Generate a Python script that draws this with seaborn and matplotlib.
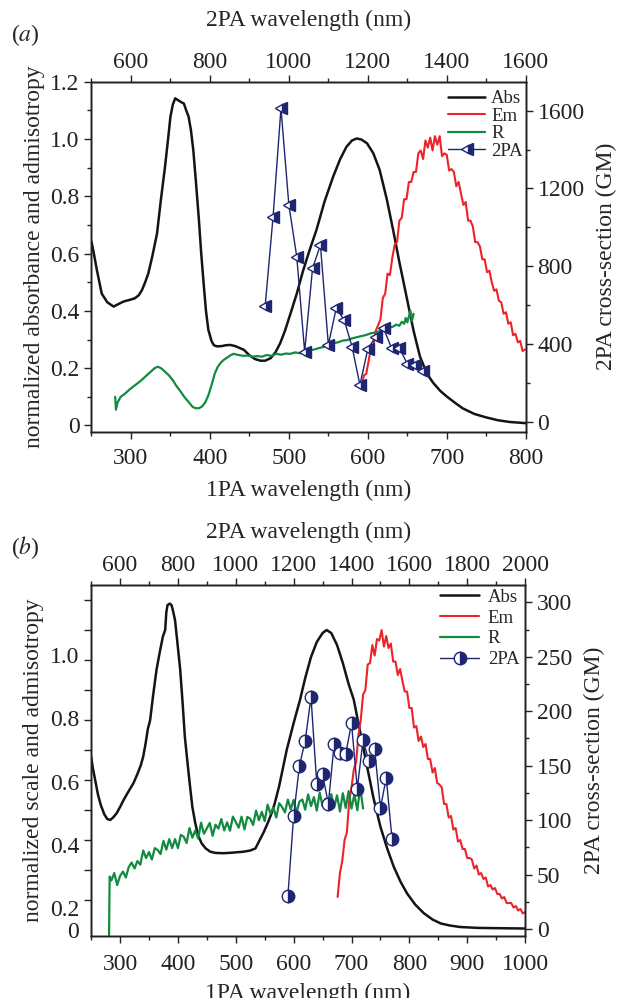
import numpy as np
import pandas as pd
import matplotlib
matplotlib.use('Agg')
import matplotlib.pyplot as plt
import seaborn as sns
from matplotlib.ticker import MultipleLocator, FixedLocator, FixedFormatter
from matplotlib.lines import Line2D

# ---------------- panel (a) data ----------------
abs_a_x = [250, 253, 257, 263, 270, 278, 285, 291, 298, 305, 310, 314, 318, 322, 327, 333, 338, 343,
           347, 350, 353, 356, 360, 364, 367, 370, 373, 376, 379, 382, 386, 389, 392, 395, 398, 402,
           405, 409, 415, 420, 426, 432, 438, 443, 450, 457, 464, 470, 477, 483, 489, 495, 502, 510,
           518, 526, 535, 545, 556, 565, 573, 580, 586, 592, 599, 607, 615, 624, 632, 640, 649, 658,
           666, 675, 683, 692, 700, 710, 720, 735, 750, 765, 780, 800]
abs_a_y = [0.642, 0.60, 0.54, 0.46, 0.43, 0.415, 0.425, 0.433, 0.438, 0.444, 0.455, 0.473, 0.50, 0.531,
           0.59, 0.67, 0.79, 0.90, 1.00, 1.078, 1.12, 1.142, 1.135, 1.128, 1.124, 1.10, 1.078, 1.03,
           0.96, 0.86, 0.72, 0.60, 0.497, 0.40, 0.334, 0.295, 0.28, 0.276, 0.277, 0.28, 0.281, 0.277,
           0.27, 0.264, 0.245, 0.232, 0.226, 0.226, 0.235, 0.255, 0.287, 0.33, 0.39, 0.46, 0.54, 0.61,
           0.683, 0.78, 0.868, 0.93, 0.973, 0.995, 1.002, 0.998, 0.985, 0.95, 0.892, 0.79, 0.683, 0.57,
           0.45, 0.33, 0.241, 0.18, 0.148, 0.12, 0.101, 0.08, 0.06, 0.04, 0.028, 0.018, 0.012, 0.008]

em_a_x = list(range(592, 801, 3))
em_a_y = [0.13, 0.175, 0.18, 0.225, 0.27, 0.275, 0.33, 0.35, 0.37, 0.445,
          0.46, 0.53, 0.525, 0.585, 0.63, 0.64, 0.715, 0.725, 0.79, 0.79,
          0.85, 0.85, 0.885, 0.885, 0.95, 0.96, 0.93, 0.995, 0.97, 1.005,
          0.96, 1.01, 0.98, 1.01, 0.94, 0.95, 0.945, 0.89, 0.895, 0.885,
          0.835, 0.85, 0.81, 0.77, 0.78, 0.715, 0.715, 0.695, 0.64, 0.64,
          0.625, 0.58, 0.58, 0.535, 0.54, 0.50, 0.47, 0.475, 0.435, 0.43,
          0.39, 0.395, 0.355, 0.36, 0.315, 0.32, 0.29, 0.295, 0.26, 0.265]

r_a_x = [280, 281, 283, 287, 292, 298, 305, 312, 318, 324, 330, 334, 338, 343, 348, 353, 358, 363, 368,
         373, 378, 382, 386, 390, 394, 398, 402, 406, 410, 414, 418, 422, 426, 430, 436, 442, 448, 454,
         460, 466, 472, 478, 484, 490, 496, 502, 508, 514, 520, 526, 532, 538, 544, 550, 556, 562, 568,
         574, 580, 586, 592, 598, 604, 610, 616, 620, 624, 628, 632, 636, 640, 643, 646, 648, 650, 652,
         654, 656, 658]
r_a_y = [0.10, 0.055, 0.08, 0.10, 0.11, 0.125, 0.14, 0.155, 0.17, 0.185, 0.20, 0.205, 0.20, 0.188,
         0.175, 0.158, 0.136, 0.118, 0.098, 0.082, 0.065, 0.06, 0.06, 0.066, 0.08, 0.105, 0.14, 0.18,
         0.205, 0.22, 0.23, 0.237, 0.245, 0.25, 0.246, 0.243, 0.244, 0.24, 0.242, 0.24, 0.246, 0.243,
         0.25, 0.247, 0.251, 0.25, 0.255, 0.252, 0.258, 0.262, 0.265, 0.27, 0.274, 0.282, 0.287, 0.29,
         0.296, 0.298, 0.304, 0.308, 0.312, 0.316, 0.322, 0.325, 0.33, 0.336, 0.333, 0.342, 0.345,
         0.352, 0.348, 0.362, 0.355, 0.375, 0.36, 0.38, 0.40, 0.365, 0.39]

tpa_a_x = [940, 960, 980, 1000, 1020, 1040, 1060, 1080, 1100, 1120, 1140, 1160, 1180, 1200, 1220,
           1240, 1260, 1280, 1300, 1320, 1340]
tpa_a_y = [596, 1055, 1612, 1115, 849, 361, 790, 909, 396, 584, 524, 387, 190, 374, 438, 481, 379,
           379, 298, 293, 259]

# ---------------- panel (b) data ----------------
abs_b_x = [250, 253, 257, 262, 267, 273, 278, 283, 288, 294, 300, 306, 314, 323, 330, 336, 340, 344,
           348, 352, 357, 363, 368, 374, 378, 380, 382, 386, 389, 392, 395, 399, 404, 408, 412, 417,
           421, 425, 430, 435, 441, 448, 456, 465, 479, 495, 513, 525, 534, 540, 548, 556, 562, 567,
           575, 588, 600, 611, 620, 630, 640, 650, 657, 665, 675, 685, 695, 704, 715, 727, 738, 750,
           762, 773, 785, 796, 810, 825, 840, 854, 870, 888, 920, 960, 1000]
abs_b_y = [0.578, 0.54, 0.50, 0.45, 0.415, 0.385, 0.37, 0.367, 0.375, 0.389, 0.41, 0.433, 0.46, 0.489,
           0.52, 0.55, 0.578, 0.62, 0.67, 0.70, 0.78, 0.867, 0.92, 0.978, 1.0, 1.06, 1.083, 1.088,
           1.083, 1.06, 1.033, 0.96, 0.867, 0.76, 0.644, 0.55, 0.478, 0.41, 0.356, 0.315, 0.289, 0.272,
           0.261, 0.257, 0.256, 0.258, 0.261, 0.265, 0.272, 0.295, 0.325, 0.36, 0.39, 0.42, 0.48,
           0.60, 0.69, 0.767, 0.84, 0.91, 0.96, 0.99, 1.0, 0.99, 0.95, 0.89, 0.82, 0.767, 0.66, 0.544,
           0.44, 0.344, 0.27, 0.211, 0.16, 0.122, 0.085, 0.056, 0.035, 0.022, 0.015, 0.01, 0.007,
           0.006, 0.005]

em_b_x = list(range(676, 1001, 4))
em_b_y = [0.11, 0.19, 0.23, 0.30, 0.325, 0.43, 0.475, 0.535, 0.56, 0.65,
          0.70, 0.785, 0.80, 0.885, 0.89, 0.95, 0.915, 0.97, 0.965, 1.00,
          0.945, 0.98, 0.94, 0.955, 0.895, 0.895, 0.85, 0.87, 0.83, 0.795,
          0.795, 0.74, 0.74, 0.675, 0.68, 0.63, 0.645, 0.61, 0.62, 0.57,
          0.57, 0.525, 0.54, 0.49, 0.485, 0.475, 0.42, 0.42, 0.375, 0.38,
          0.335, 0.34, 0.295, 0.30, 0.27, 0.27, 0.24, 0.24, 0.235, 0.205,
          0.215, 0.185, 0.19, 0.17, 0.175, 0.145, 0.15, 0.135, 0.14, 0.12,
          0.12, 0.105, 0.11, 0.09, 0.09, 0.09, 0.075, 0.08, 0.065, 0.07,
          0.055, 0.06]

r_b_x = [281, 282] + list(range(285, 721, 5))
r_b_y = [-0.017, 0.178,
         0.165, 0.19, 0.15, 0.18, 0.195, 0.175, 0.21, 0.225, 0.205, 0.23,
         0.218, 0.265, 0.24, 0.26, 0.235, 0.273, 0.267, 0.253, 0.297, 0.268,
         0.303, 0.273, 0.303, 0.273, 0.317, 0.311, 0.29, 0.34, 0.308, 0.332,
         0.305, 0.358, 0.321, 0.339, 0.357, 0.314, 0.351, 0.338, 0.37, 0.332,
         0.359, 0.331, 0.378, 0.36, 0.341, 0.378, 0.335, 0.377, 0.371, 0.35,
         0.398, 0.366, 0.394, 0.363, 0.418, 0.388, 0.408, 0.375, 0.423, 0.41,
         0.392, 0.435, 0.402, 0.434, 0.391, 0.428, 0.435, 0.401, 0.452, 0.413,
         0.443, 0.398, 0.458, 0.413, 0.438, 0.403, 0.453, 0.408, 0.449, 0.395,
         0.456, 0.407, 0.463, 0.405, 0.452, 0.399, 0.476, 0.405]

tpa_b_x = [1180, 1200, 1220, 1240, 1260, 1280, 1300, 1320, 1340, 1360, 1380, 1400, 1420, 1440, 1460,
           1480, 1500, 1520, 1540]
tpa_b_y = [30, 104, 150, 173, 213, 133, 142, 115, 170, 162, 161, 189, 129, 174, 154, 165, 111, 139, 83]

# tick labels
xt1_a = [300, 400, 500, 600, 700, 800]
xt2_a = [600, 800, 1000, 1200, 1400, 1600]
yl_a = [0, 0.2, 0.4, 0.6, 0.8, 1.0, 1.2]
yl_a_labels = ['0', '0.2', '0.4', '0.6', '0.8', '1.0', '1.2']
yr_a = [0, 400, 800, 1200, 1600]
xt1_b = [300, 400, 500, 600, 700, 800, 900, 1000]
xt2_b = [600, 800, 1000, 1200, 1400, 1600, 1800, 2000]
yl_b_labels = ['0', '0.2', '0.4', '0.6', '0.8', '1.0']
yl_b_pos = [0.0, 0.073, 0.283, 0.493, 0.707, 0.917]
yr_b = [0, 50, 100, 150, 200, 250, 300]
legend_labels = ['Abs', 'Em', 'R', '2PA']

# ---------------- style ----------------
sns.set_style('ticks')
plt.rcParams['font.family'] = ['Liberation Serif', 'DejaVu Serif']
plt.rcParams['mathtext.fontset'] = 'stix'
plt.rcParams['axes.linewidth'] = 1.0
plt.rcParams['axes.edgecolor'] = '#222222'

BLACK = '#141414'
RED = '#ee2229'
GREEN = '#128a3f'
NAVY = '#1e2672'
FS = 17
TFS = 17
LFS = 13.5

fig = plt.figure(figsize=(6.19, 9.98), dpi=100)


def style_ticks(axis_obj):
    axis_obj.tick_params(which='major', direction='out', length=5, width=1.0, labelsize=TFS,
                         color='#222222', labelcolor='#222222')
    axis_obj.tick_params(which='minor', direction='out', length=3, width=1.0, color='#222222')


def draw_panel(pos, ax_x, ax_y, em_x, em_y, rx, ry, tx, ty, marker, ms, xlim, ylim, yrlim,
               ylabel, label_letter, letter_y, pads):
    bot_pad, bot_lpad, top_pad, top_lpad = pads
    ax = fig.add_axes(pos)
    sns.lineplot(x=ax_x, y=ax_y, ax=ax, color=BLACK, lw=1.8, sort=False, estimator=None)
    sns.lineplot(x=em_x, y=em_y, ax=ax, color=RED, lw=1.5, sort=False, estimator=None)
    sns.lineplot(x=rx, y=ry, ax=ax, color=GREEN, lw=1.6, sort=False, estimator=None)
    ax.set_xlim(*xlim)
    ax.set_ylim(*ylim)
    axr = ax.twinx()
    axr.set_ylim(*yrlim)
    axt = axr.twiny()
    axt.set_xlim(2 * xlim[0], 2 * xlim[1])
    sns.lineplot(x=tx, y=ty, ax=axt, color=NAVY, lw=1.0, sort=False, estimator=None,
                 marker=marker, markersize=ms, fillstyle='right', markerfacecolor=NAVY,
                 markerfacecoloralt='white', markeredgecolor=NAVY, markeredgewidth=1.0)
    for a in (ax, axr, axt):
        for s in a.spines.values():
            s.set_linewidth(1.0)
            s.set_color('#222222')
        style_ticks(a)
    ax.set_ylabel(ylabel, fontsize=FS)
    ax.set_xlabel('1PA wavelength (nm)', fontsize=FS, labelpad=bot_lpad)
    axr.set_ylabel('2PA cross-section (GM)', fontsize=FS, labelpad=8)
    axt.set_xlabel('2PA wavelength (nm)', fontsize=FS, labelpad=top_lpad)
    ax.tick_params(top=False, right=False)
    ax.tick_params(axis='x', which='major', pad=bot_pad)
    axt.tick_params(axis='x', which='major', pad=top_pad)
    axr.tick_params(top=False)
    fig.text(0.018, letter_y, r'(' + r'$\it{' + label_letter + r'}$' + r')',
             fontsize=FS, ha='left', va='center')
    handles = [Line2D([], [], color=BLACK, lw=1.8), Line2D([], [], color=RED, lw=1.5),
               Line2D([], [], color=GREEN, lw=1.6), axt.get_lines()[0]]
    return ax, axr, axt, handles


# ---------- panel a ----------
pos_a = [0.1478, 0.5674, 0.7015, 0.3507]
ax, axr, axt, h = draw_panel(pos_a, abs_a_x, abs_a_y, em_a_x, em_a_y, r_a_x, r_a_y, tpa_a_x, tpa_a_y,
                             '<', 8.5, (250, 800), (-0.022, 1.2), (-51, 1749),
                             'normalized absorbance and admisotropy', 'a', 0.965,
                             (6.5, 8, 1.5, 18.5))
ax.xaxis.set_major_locator(FixedLocator(xt1_a))
ax.xaxis.set_minor_locator(MultipleLocator(50))
ax.yaxis.set_major_locator(FixedLocator(yl_a))
ax.yaxis.set_major_formatter(FixedFormatter(yl_a_labels))
ax.yaxis.set_minor_locator(MultipleLocator(0.1))
axr.yaxis.set_major_locator(FixedLocator(yr_a))
axr.yaxis.set_minor_locator(MultipleLocator(200))
axt.xaxis.set_major_locator(FixedLocator(xt2_a))
axt.xaxis.set_minor_locator(MultipleLocator(100))
axt.legend(h, legend_labels, loc='upper left', bbox_to_anchor=(0.821, 0.976), frameon=False,
           fontsize=LFS, handlelength=2.0, handletextpad=0.3, labelspacing=0.02,
           borderpad=0, borderaxespad=0)

# ---------- panel b ----------
pos_b = [0.1472, 0.0624, 0.7011, 0.3514]
ax, axr, axt, h = draw_panel(pos_b, abs_b_x, abs_b_y, em_b_x, em_b_y, r_b_x, r_b_y, tpa_b_x, tpa_b_y,
                             'o', 9, (250, 1000), (-0.019, 1.15), (-6.2, 316),
                             'normalized scale and admisotropy', 'b', 0.451,
                             (8.5, 5, 1.5, 12.5))
ax.xaxis.set_major_locator(FixedLocator(xt1_b))
ax.xaxis.set_minor_locator(MultipleLocator(50))
ax.yaxis.set_major_locator(FixedLocator(yl_b_pos))
ax.yaxis.set_major_formatter(FixedFormatter(yl_b_labels))
ax.yaxis.set_minor_locator(MultipleLocator(0.1))
axr.yaxis.set_major_locator(FixedLocator(yr_b))
axr.yaxis.set_minor_locator(MultipleLocator(25))
axt.xaxis.set_major_locator(FixedLocator(xt2_b))
axt.xaxis.set_minor_locator(MultipleLocator(100))
ax.tick_params(axis='y', which='major', length=0, pad=8.5)
ax.tick_params(axis='y', which='minor', length=5)
axt.legend(h, legend_labels, loc='upper left', bbox_to_anchor=(0.804, 0.99), frameon=False,
           fontsize=LFS, handlelength=2.1, handletextpad=0.45, labelspacing=0.2,
           borderpad=0, borderaxespad=0)

fig.savefig('out.png', dpi=100)
